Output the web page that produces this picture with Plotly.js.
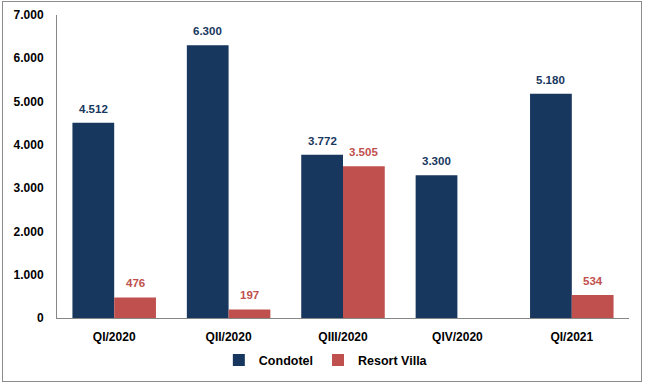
<!DOCTYPE html>
<html><head><meta charset="utf-8">
<script src="https://cdn.plot.ly/plotly-3.0.1.min.js"></script>
<style>
html,body{margin:0;padding:0;background:#fff;}
#frame{position:absolute;left:2px;top:1px;width:638px;height:379px;border:1px solid #8c8c8c;}
#chart{position:absolute;left:0;top:0;width:645px;height:383px;}
</style></head>
<body><div id="frame"></div><div id="chart"></div>
<script>
const categories = ["QI/2020","QII/2020","QIII/2020","QIV/2020","QI/2021"];
const condotel = [4512, 6300, 3772, 3300, 5180];
const resortVilla = [476, 197, 3505, null, 534];
const yTicks = [0,1000,2000,3000,4000,5000,6000,7000];

const navy = "#17375E", red = "#C0504D";
const traces = [
  {type:"bar", name:"Condotel", x:categories, y:condotel, marker:{color:navy}},
  {type:"bar", name:"Resort Villa", x:categories, y:resortVilla, marker:{color:red}}
];
const off = 0.1825;
const annotations = [];
condotel.forEach((v,i)=>{ if(v!=null) annotations.push({x:i-off, y:v, xref:"x", yref:"y", text:v.toLocaleString("de-DE"), showarrow:false, yanchor:"bottom", yshift:6, font:{family:"Arial, Liberation Sans", size:11.5, color:navy, weight:"bold"}}); });
resortVilla.forEach((v,i)=>{ if(v!=null) annotations.push({x:i+off, y:v, xref:"x", yref:"y", text:v.toLocaleString("de-DE"), showarrow:false, yanchor:"bottom", yshift:6, font:{family:"Arial, Liberation Sans", size:11.5, color:red, weight:"bold"}}); });

const layout = {
  width:645, height:383,
  margin:{l:57, r:16, t:15, b:65, autoexpand:false},
  paper_bgcolor:"rgba(0,0,0,0)", plot_bgcolor:"rgba(0,0,0,0)",
  separators:",.",
  barmode:"group", bargap:0.27, bargroupgap:0,
  font:{family:"Arial, Liberation Sans", size:12, color:"#000"},
  xaxis:{showline:true, linecolor:"#868686", linewidth:1, ticks:"", showgrid:false, ticklabelstandoff:8,
         tickfont:{size:12, weight:"bold", color:"#000"}},
  yaxis:{range:[0,7000], tickvals:yTicks, tickformat:",.0f", showline:true, linecolor:"#868686", linewidth:1,
         ticks:"", showgrid:false, zeroline:false, ticklabelstandoff:10,
         tickfont:{size:12, weight:"bold", color:"#000"}},
  showlegend:true,
  legend:{orientation:"h", x:0.47, xanchor:"center", y:-0.09, yanchor:"top",
          font:{size:12.5, weight:"bold", color:"#000"}, itemwidth:30, traceorder:"normal"},
  annotations:annotations
};
Plotly.newPlot("chart", traces, layout, {displayModeBar:false, staticPlot:true});
</script></body></html>
